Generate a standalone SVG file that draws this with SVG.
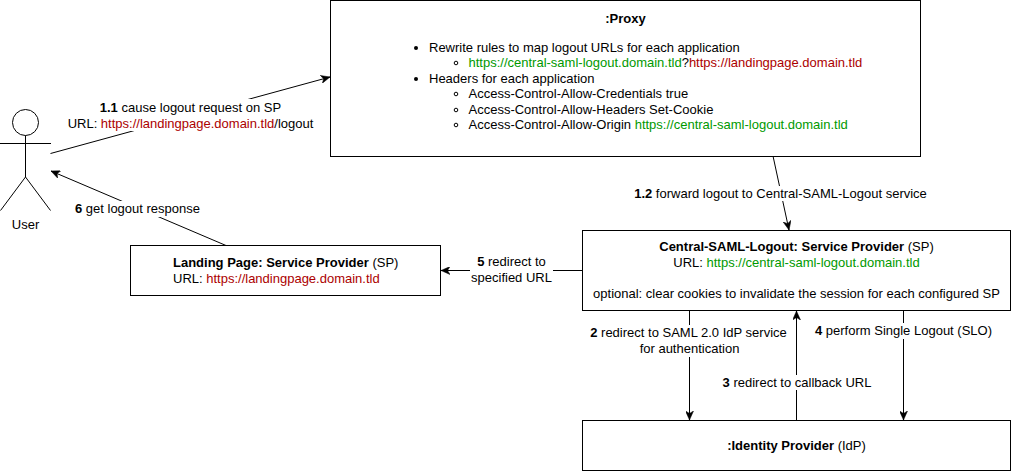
<svg xmlns="http://www.w3.org/2000/svg" width="1011" height="471" viewBox="0 0 1011 471">
<style>
text{font-family:"Liberation Sans",Arial,sans-serif;font-size:13px;fill:#000}
.m{text-anchor:middle}
.b{font-weight:bold}
.r{fill:#ac0000}
.g{fill:#009900}
.box{fill:#fff;stroke:#000;stroke-width:1}
.ln{fill:none;stroke:#000;stroke-width:1}
.bg{fill:#fff;stroke:none}
.dot{fill:#000}
.ring{fill:none;stroke:#000;stroke-width:1}
</style>
<defs>
<marker id="a" viewBox="0 0 9 8" refX="9" refY="4" markerWidth="9" markerHeight="8" markerUnits="userSpaceOnUse" orient="auto"><path d="M0 0L9 4L0 8L2.500 4Z" fill="#000" stroke="#000" stroke-width="0.5"/></marker>
</defs>
<g id="connectors">
<path class="ln" marker-end="url(#a)" d="M50.500 153.500L330 77"/>
<path class="ln" marker-end="url(#a)" d="M773 156L789 230"/>
<path class="ln" marker-end="url(#a)" d="M226 245.500L51 171"/>
<path class="ln" marker-end="url(#a)" d="M582 270.500L441 270.500"/>
<path class="ln" marker-end="url(#a)" d="M689.500 310.500L689.500 420"/>
<path class="ln" marker-end="url(#a)" d="M796.500 420.500L796.500 311"/>
<path class="ln" marker-end="url(#a)" d="M903.500 310.500L903.500 420"/>
</g>
<g id="label-1-1"><rect class="bg" x="67" y="99" width="247" height="32"/>
<text class="m" x="190.500" y="112"><tspan class="b">1.1</tspan> cause logout request on SP</text>
<text class="m" x="190.500" y="128">URL: <tspan class="r">https://landingpage.domain.tld</tspan>/logout</text></g>
<g id="label-6"><rect class="bg" x="75" y="201" width="126" height="16"/>
<text class="m" x="137.500" y="213"><tspan class="b">6</tspan> get logout response</text></g>
<g id="label-1-2"><rect class="bg" x="634" y="186" width="294" height="15"/>
<text class="m" x="780.500" y="198"><tspan class="b">1.2</tspan> forward logout to Central-SAML-Logout service</text></g>
<g id="label-5"><rect class="bg" x="470" y="254" width="83" height="32"/>
<text class="m" x="511.500" y="266"><tspan class="b">5</tspan> redirect to</text>
<text class="m" x="511.500" y="282">specified URL</text></g>
<g id="label-2"><rect class="bg" x="589" y="325" width="198" height="32"/>
<text class="m" x="688.500" y="337"><tspan class="b">2</tspan> redirect to SAML 2.0 IdP service</text>
<text class="m" x="689.500" y="353">for authentication</text></g>
<g id="label-3"><rect class="bg" x="722" y="375" width="151" height="15"/>
<text class="m" x="797" y="387"><tspan class="b">3</tspan> redirect to callback URL</text></g>
<g id="label-4"><rect class="bg" x="814" y="323" width="179" height="16"/>
<text class="m" x="903.500" y="335"><tspan class="b">4</tspan> perform Single Logout (SLO)</text></g>
<g id="user">
<circle class="ln" cx="25.500" cy="122.500" r="13"/>
<path class="ln" d="M25.500 135.500V177M0 143.500H51M25.500 177L0.500 210.500M25.500 177L50.500 210.500"/>
<text class="m" x="25.500" y="229">User</text>
</g>
<g id="proxy">
<rect class="box" x="330.500" y="0.500" width="590" height="156"/>
<text class="m b" x="625.500" y="23">:Proxy</text>
<circle class="dot" cx="416" cy="48" r="2"/>
<text x="429" y="52">Rewrite rules to map logout URLs for each application</text>
<circle class="ring" cx="456" cy="63" r="1.800"/>
<text x="468.500" y="67"><tspan class="g">https://central-saml-logout.domain.tld</tspan>?<tspan class="r">https://landingpage.domain.tld</tspan></text>
<circle class="dot" cx="416" cy="79" r="2"/>
<text x="429" y="83">Headers for each application</text>
<circle class="ring" cx="456" cy="94" r="1.800"/>
<text x="468.500" y="98">Access-Control-Allow-Credentials true</text>
<circle class="ring" cx="456" cy="110" r="1.800"/>
<text x="468.500" y="114">Access-Control-Allow-Headers Set-Cookie</text>
<circle class="ring" cx="456" cy="125" r="1.800"/>
<text x="468.500" y="129">Access-Control-Allow-Origin <tspan class="g">https://central-saml-logout.domain.tld</tspan></text>
</g>
<g id="landing-page">
<rect class="box" x="130.500" y="245.500" width="310" height="50"/>
<text x="173" y="267"><tspan class="b">Landing Page: Service Provider</tspan> (SP)</text>
<text x="173" y="283">URL: <tspan class="r">https://landingpage.domain.tld</tspan></text>
</g>
<g id="central-saml-logout">
<rect class="box" x="582.500" y="230.500" width="428" height="80"/>
<text class="m" x="796.500" y="251"><tspan class="b">Central-SAML-Logout: Service Provider</tspan> (SP)</text>
<text class="m" x="796.500" y="267">URL: <tspan class="g">https://central-saml-logout.domain.tld</tspan></text>
<text class="m" x="796.500" y="298">optional: clear cookies to invalidate the session for each configured SP</text>
</g>
<g id="identity-provider">
<rect class="box" x="582.500" y="420.500" width="428" height="50"/>
<text class="m" x="796.500" y="450"><tspan class="b">:Identity Provider</tspan> (IdP)</text>
</g>
</svg>
